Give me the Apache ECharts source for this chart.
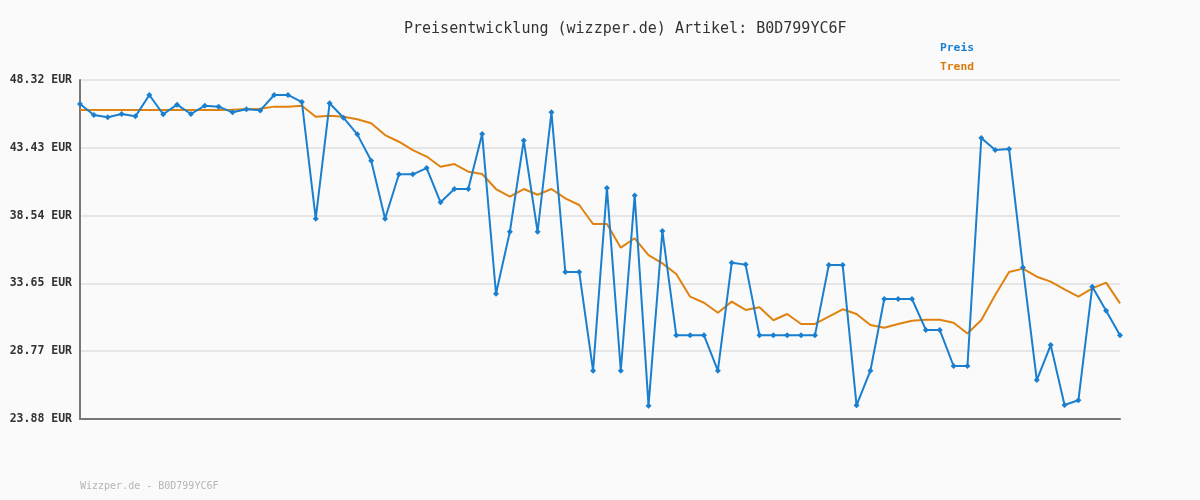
<!DOCTYPE html>
<html>
<head>
<meta charset="utf-8">
<script src="https://cdn.jsdelivr.net/npm/echarts@6/dist/echarts.min.js"></script>
<style>
html,body{margin:0;padding:0;background:#fafafa;}
#c{width:1200px;height:500px;}
</style>
</head>
<body>
<div id="c"></div>
<script>
const categories = ['1','2','3','4','5','6','7','8','9','10','11','12','13','14','15','16','17','18','19','20','21','22','23','24','25','26','27','28','29','30','31','32','33','34','35','36','37','38','39','40','41','42','43','44','45','46','47','48','49','50','51','52','53','54','55','56','57','58','59','60','61','62','63','64','65','66','67','68','69','70','71','72','73','74','75','76'];
const preis = [46.59,45.80,45.63,45.87,45.70,47.24,45.85,46.54,45.87,46.47,
  46.40,45.99,46.21,46.13,47.24,47.24,46.73,38.32,46.64,45.60,
  44.40,42.50,38.32,41.52,41.52,41.97,39.50,40.46,40.46,44.43,
  32.91,37.38,43.95,37.38,45.99,34.48,34.48,27.36,40.53,27.36,
  40.00,24.84,37.43,29.91,29.91,29.91,27.36,35.15,35.01,29.91,
  29.91,29.91,29.91,29.91,34.98,34.98,24.87,27.36,32.53,32.53,
  32.53,30.30,30.30,27.70,27.70,44.14,43.27,43.35,34.80,26.69,
  29.21,24.89,25.23,33.42,31.69,29.91];
const trend = [46.16,46.16,46.16,46.16,46.16,46.16,46.16,46.16,46.16,46.16,
  46.16,46.18,46.23,46.25,46.40,46.40,46.47,45.67,45.75,45.67,
  45.49,45.20,44.35,43.87,43.27,42.80,42.07,42.26,41.71,41.54,
  40.46,39.91,40.46,40.05,40.46,39.79,39.31,37.94,37.94,36.23,
  36.91,35.70,35.10,34.33,32.70,32.26,31.54,32.34,31.74,31.93,
  31.00,31.45,30.73,30.73,31.26,31.79,31.45,30.66,30.46,30.73,
  30.97,31.04,31.04,30.82,30.05,31.02,32.82,34.48,34.72,34.14,
  33.78,33.23,32.70,33.30,33.71,32.22];
const yTickLabels = ['23.88','28.77','33.65','38.54','43.43','48.32'];
const yMin = 23.88, yMax = 48.32;

const BLUE = '#1a7fcf';
const ORANGE = '#e0820f';
const MONO = '"DejaVu Sans Mono", "Liberation Mono", monospace';

const chart = echarts.init(document.getElementById('c'), null, {renderer:'canvas'});
chart.setOption({
  backgroundColor: '#fafafa',
  animation: false,
  title: {
    text: 'Preisentwicklung (wizzper.de) Artikel: B0D799YC6F',
    left: 399, top: 17,
    textStyle: {fontFamily: MONO, fontSize: 15, fontWeight: 'normal', color: '#333'}
  },
  legend: {
    orient: 'vertical',
    left: 930, top: 38,
    itemWidth: 0, itemHeight: 0, itemGap: 8,
    icon: 'rect',
    textStyle: {fontFamily: MONO, fontSize: 11.3, fontWeight: 'bold'},
    data: [
      {name: 'Preis', textStyle: {color: BLUE}},
      {name: 'Trend', textStyle: {color: '#db7a0a'}}
    ]
  },
  graphic: [{
    type: 'text', left: 80, top: 481,
    style: {text: 'Wizzper.de - B0D799YC6F', fill: '#b5b5b5', font: '10px ' + MONO}
  }],
  grid: {left: 80, right: 80, top: 80, bottom: 81, containLabel: false},
  xAxis: {
    type: 'category', data: categories, boundaryGap: false,
    axisLine: {lineStyle: {color: '#777', width: 2}},
    axisTick: {show: false}, axisLabel: {show: false}, splitLine: {show: false}
  },
  yAxis: {
    type: 'value', min: yMin, max: yMax, interval: (yMax - yMin) / 5,
    axisLine: {show: true, lineStyle: {color: '#777', width: 2}},
    axisTick: {show: false},
    axisLabel: {
      margin: 8,
      fontFamily: MONO, fontSize: 11.5, fontWeight: 'bold', color: '#333',
      formatter: function (v, i) { return yTickLabels[i] + ' EUR'; }
    },
    splitLine: {show: true, lineStyle: {color: '#e6e6e6', width: 2}}
  },
  series: [
    {
      name: 'Preis', type: 'line', data: preis,
      symbol: 'diamond', symbolSize: 6, showSymbol: true,
      lineStyle: {color: BLUE, width: 2},
      itemStyle: {color: BLUE},
      z: 3
    },
    {
      name: 'Trend', type: 'line', data: trend,
      showSymbol: false, symbol: 'none',
      lineStyle: {color: ORANGE, width: 2},
      itemStyle: {color: ORANGE},
      z: 2
    }
  ]
});
</script>
</body>
</html>
